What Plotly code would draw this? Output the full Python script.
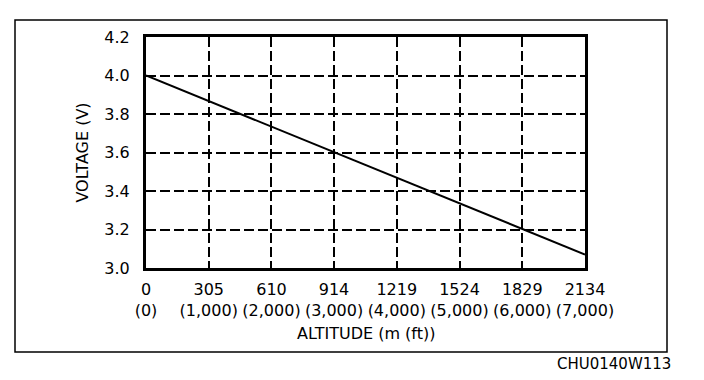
import plotly.graph_objects as go

altitude_m = [0, 305, 610, 914, 1219, 1524, 1829, 2134]
altitude_ft_labels = ["(0)", "(1,000)", "(2,000)", "(3,000)", "(4,000)", "(5,000)", "(6,000)", "(7,000)"]
line_x = [0, 2134]
line_v = [4.0, 3.07]
voltage_ticks = [3.0, 3.2, 3.4, 3.6, 3.8, 4.0, 4.2]

FONT = "DejaVu Sans"
FS = 16
OFF = 8  # page body margin
W, H = 704 - 2 * OFF, 380 - 2 * OFF
# plot area in page pixels
PL, PR, PT, PB = 146, 585, 37, 268
L, R, T, B = PL - OFF, PR - OFF, PT - OFF, PB - OFF
pw, ph = R - L, B - T

fig = go.Figure()
fig.add_trace(go.Scatter(x=line_x, y=line_v, mode="lines",
                         line=dict(color="black", width=2), showlegend=False))
# invisible trace for secondary (feet) axis
fig.add_trace(go.Scatter(x=line_x, y=line_v, mode="lines", xaxis="x2",
                         line=dict(color="rgba(0,0,0,0)", width=0), showlegend=False,
                         hoverinfo="skip"))

fig.update_layout(
    width=W, height=H,
    margin=dict(l=L, r=W - R, t=T, b=H - B),
    paper_bgcolor="white", plot_bgcolor="white",
    font=dict(family=FONT, size=FS, color="black"),
    xaxis=dict(range=[0, 2134], tickvals=altitude_m,
               ticktext=[str(v) for v in altitude_m],
               showgrid=True, gridcolor="black", gridwidth=1.5, griddash="10px,4px",
               showline=True, linecolor="black", linewidth=3, mirror=True,
               ticks="", zeroline=False, ticklabelstandoff=5, automargin=False),
    xaxis2=dict(range=[0, 2134], tickvals=altitude_m, ticktext=altitude_ft_labels,
                overlaying="x", side="bottom", anchor="y", showgrid=False,
                showline=False, ticks="", zeroline=False, ticklabelstandoff=31,
                automargin=False),
    yaxis=dict(range=[3.0, 4.2], tickvals=voltage_ticks,
               ticktext=[f"{v:.1f}" for v in voltage_ticks],
               showgrid=True, gridcolor="black", gridwidth=1.5, griddash="10px,4px",
               showline=True, linecolor="black", linewidth=3, mirror=True,
               ticks="", zeroline=False, ticklabelstandoff=10, automargin=False,
               title=dict(text="VOLTAGE (V)", standoff=12,
                          font=dict(family=FONT, size=FS))),
)

def px2paper_x(px):
    return (px - PL) / pw

def py2paper_y(py):
    return (PB - py) / ph

fig.add_shape(type="rect", xref="paper", yref="paper",
              x0=px2paper_x(15), x1=px2paper_x(667),
              y0=py2paper_y(352), y1=py2paper_y(20),
              line=dict(color="black", width=1.5), layer="below")

fig.add_annotation(text="ALTITUDE (m (ft))", xref="paper", yref="paper",
                   x=0.5, y=py2paper_y(334), xanchor="center", yanchor="middle",
                   showarrow=False, font=dict(family=FONT, size=FS, color="black"))

fig.add_annotation(text="CHU0140W113", xref="paper", yref="paper",
                   x=px2paper_x(673), y=py2paper_y(364), xanchor="right", yanchor="middle",
                   showarrow=False, font=dict(family=FONT, size=15, color="black"))

fig.write_html("out.html")
